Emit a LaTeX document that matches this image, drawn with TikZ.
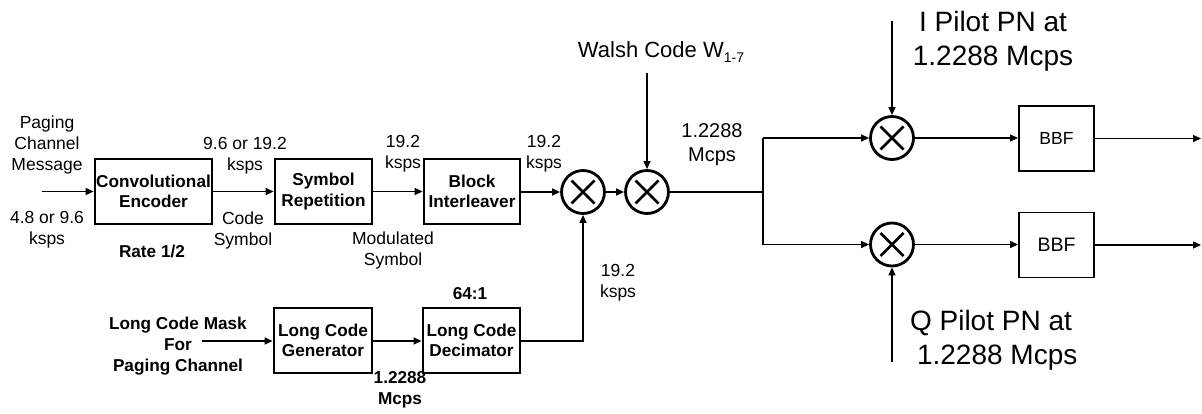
\documentclass[tikz,border=0pt]{standalone}
\usepackage{fontspec}
\setmainfont{Liberation Sans}
\usetikzlibrary{arrows.meta}
\begin{document}
\begin{tikzpicture}[x=1pt,y=-1pt,
  blk/.style={draw,line width=2.8pt,inner sep=0pt,align=center,font=\fontsize{17.2}{20.5}\selectfont\bfseries},
  bbf/.style={draw,line width=1.9pt,inner sep=0pt,minimum width=75pt,minimum height=65pt},
  mult/.style={draw,circle,line width=2.8pt,minimum size=43pt,inner sep=0pt,
    path picture={\draw[line width=2.8pt] (path picture bounding box.center) ++(-11.5,-11.5) -- ++(23,23)
      (path picture bounding box.center) ++(-11.5,11.5) -- ++(23,-23);}},
  lbl/.style={inner sep=0pt,align=center,font=\fontsize{17.5}{21}\selectfont},
  blbl/.style={inner sep=0pt,align=center,font=\fontsize{17.2}{21}\selectfont\bfseries},
  big/.style={inner sep=0pt,align=center,font=\fontsize{28}{34}\selectfont},
  conn/.style={line width=1.3pt},
  arr/.style={line width=1.3pt,-{Triangle[length=8pt,width=7pt]}}
]
\useasboundingbox (0,0) rectangle (1202,413);

% blocks
\node[blk,minimum width=117pt,minimum height=65pt] (conv) at (153.5,191.5) {Convolutional\\Encoder};
\node[blk,minimum width=97pt,minimum height=65pt] (symrep) at (323.5,191.5) {Symbol\\Repetition};
\node[blk,minimum width=96pt,minimum height=65pt] (blkint) at (472,191.5) {Block\\Interleaver};
\node[blk,minimum width=98pt,minimum height=65pt] (lcg) at (323,340.5) {Long Code\\Generator};
\node[blk,minimum width=97pt,minimum height=65pt] (lcd) at (471.5,340.5) {Long Code\\Decimator};
\node[mult] (m1) at (583,192) {};
\node[mult] (m2) at (647,192) {};
\node[mult] (mI) at (892,138) {};
\node[mult] (mQ) at (892,244.5) {};
\node[bbf,font=\fontsize{17.5}{20}\selectfont] (bbfI) at (1056.5,138.5) {BBF};
\node[bbf,font=\fontsize{19.5}{22}\selectfont] (bbfQ) at (1056.5,245) {BBF};

% coordinates
\coordinate (in) at (42,191.5);
\coordinate (lcm) at (202,341);
\coordinate (corner) at (583,341);
\coordinate (walsh) at (647,73);
\coordinate (br) at (763,192);
\coordinate (brI) at (763,138);
\coordinate (brQ) at (763,244.5);
\coordinate (pI) at (892,21);
\coordinate (pQ) at (892,362);
\coordinate (outI) at (1201,138.5);
\coordinate (outQ) at (1201,245);

% connectors
\draw[arr] (in) -- (conv.west |- in);
\draw[arr] (conv) -- (symrep);
\draw[arr] (symrep) -- (blkint);
\draw[arr] (blkint.east |- m1) -- (m1);
\draw[arr] (m1) -- (m2);
\draw[arr] (walsh) -- (m2);
\draw[arr] (lcm) -- (lcg.west |- lcm);
\draw[arr] (lcg.east |- lcm) -- (lcd.west |- lcm);
\draw[arr] (lcd.east |- corner) -- (corner) -- (m1);
\draw[conn] (m2) -- (br);
\draw[conn] (brI) -- (brQ);
\draw[arr] (brI) -- (mI);
\draw[arr] (brQ) -- (mQ);
\draw[arr] (pI) -- (mI);
\draw[arr] (pQ) -- (mQ);
\draw[arr] (mI) -- (bbfI.west |- mI);
\draw[arr] (mQ) -- (bbfQ.west |- mQ);
\draw[arr] (bbfI) -- (outI);
\draw[arr] (bbfQ) -- (outQ);

% labels
\node[lbl] (l1) at (47,145) {Paging\\Channel\\Message};
\node[lbl] (l2) at (47,230) {4.8 or 9.6\\ksps};
\node[blbl] (l3) at (152,251) {Rate 1/2};
\node[lbl] (l4) at (245,155.5) {9.6 or 19.2\\ksps};
\node[lbl] (l5) at (243,230) {Code\\Symbol};
\node[lbl] (l6) at (403,154) {19.2\\ksps};
\node[lbl] (l7) at (393,250) {Modulated\\Symbol};
\node[lbl] (l8) at (544,153.5) {19.2\\ksps};
\node[lbl,font=\fontsize{22}{24}\selectfont] (l9) at (661,52) {Walsh Code W\raisebox{-0.35ex}{\fontsize{14}{14}\selectfont 1-7}};
\node[lbl,font=\fontsize{20}{24}\selectfont] (l10) at (712,145) {1.2288\\Mcps};
\node[big] (l11) at (993,41) {I Pilot PN at\\1.2288 Mcps};
\node[big] (l12) at (991,340) {Q Pilot PN at\\\ \,1.2288 Mcps};
\node[lbl] (l13) at (618,283) {19.2\\ksps};
\node[blbl] (l14) at (470,294) {64:1};
\node[blbl] (l15) at (178,346) {Long Code Mask\\For\\Paging Channel};
\node[blbl] (l16) at (400,390) {1.2288\\Mcps};
\end{tikzpicture}
\end{document}
